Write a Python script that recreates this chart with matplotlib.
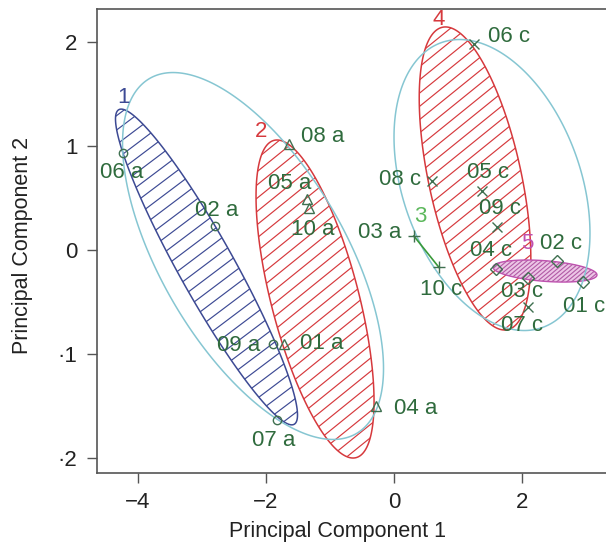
import numpy as np
import matplotlib
matplotlib.use("Agg")
import matplotlib.pyplot as plt
from matplotlib.patches import Polygon
from matplotlib.collections import LineCollection

plt.rcParams['font.family'] = ['Liberation Sans', 'DejaVu Sans']

# sample scores on the first two principal components
names = ["06 a", "02 a", "09 a", "07 a",
         "08 a", "05 a", "10 a", "01 a", "04 a",
         "03 a", "10 c",
         "06 c", "08 c", "05 c", "09 c", "07 c",
         "04 c", "02 c", "03 c", "01 c"]
pc1 = [-4.23, -2.80, -1.89, -1.83,
       -1.64, -1.36, -1.33, -1.72, -0.28,
       0.31, 0.70,
       1.25, 0.59, 1.37, 1.61, 2.10,
       1.59, 2.55, 2.09, 2.95]
pc2 = [0.93, 0.23, -0.91, -1.64,
       1.01, 0.49, 0.40, -0.91, -1.50,
       0.13, -0.17,
       1.98, 0.66, 0.56, 0.22, -0.55,
       -0.19, -0.11, -0.27, -0.31]
group = [1, 1, 1, 1,
         2, 2, 2, 2, 2,
         3, 3,
         4, 4, 4, 4, 4,
         5, 5, 5, 5]

# where each sample label sits relative to its point (points)
label_dx = [-1, 1.5, -24.5, -2, 24, -12.6, 2.5, 27, 28.3, -24.7, 1.4,
            25.4, -22.9, 4.3, 1.8, -4.3, -3.6, 2.9, -4.3, 0.7]
label_dy = [-14, 11, -0.7, -15, 5.8, 10.8, -15.8, 0.7, -2.2, 2.2, -15.8,
            5, 0.7, 13.7, 13, -13.7, 13.7, 12.2, -10, -18]

# class ellipses (groups 1, 2, 4, 5): centre, spread and correlation
ell_group = [1, 2, 4, 5]
ell_cx = [-2.93, -1.234, 1.266, 2.359]
ell_cy = [-0.168, -0.476, 0.683, -0.207]
ell_sx = [1.422, 0.922, 0.872, 0.8125]
ell_sy = [1.518, 1.529, 1.457, 0.106]
ell_rho = [-0.937, -0.644, -0.53, -0.35]

# the two larger cluster ellipses
clu_cx = [-2.203, 1.531]
clu_cy = [-0.0625, 0.620]
clu_sx = [2.039, 1.531]
clu_sy = [1.764, 1.399]
clu_rho = [-0.613, -0.33]

grp_ids = [1, 2, 3, 4, 5]
grp_lab_x = [-4.234, -2.078, 0.406, 0.703, 2.078]
grp_lab_y = [1.457, 1.139, 0.322, 2.216, 0.053]

grp_color = {1: "#3d4a94", 2: "#d6393d", 3: "#5cb85c", 4: "#d6393d", 5: "#c050b0"}
grp_marker = {1: "o", 2: "^", 3: "+", 4: "x", 5: "D"}
grp_ms = {1: 6, 2: 7.5, 3: 9, 4: 6.5, 5: 6.5}
# hatch angle (deg) and gap (px) per ellipse group
hatch_ang = {1: 37, 2: 39, 4: 39, 5: 40}
hatch_gap = {1: 11.5, 2: 10.3, 4: 10.3, 5: 3.2}
txt_green = "#2f6b3d"
pt_green = "#3f7050"
cyan = "#86c6d2"


def ellipse_xy(cx, cy, sx, sy, rho, n=300):
    t = np.linspace(0, 2 * np.pi, n)
    x = cx + sx * np.cos(t)
    y = cy + sy * (rho * np.cos(t) + np.sqrt(1 - rho ** 2) * np.sin(t))
    return np.column_stack([x, y])


def hatch(ax, patch, color, angle, spacing, lw):
    W, H = ax.bbox.width, ax.bbox.height
    th = np.radians(angle)
    d = np.array([np.cos(th), np.sin(th)])
    nrm = np.array([-np.sin(th), np.cos(th)])
    diag = np.hypot(W, H)
    segs = []
    for k in range(-int(diag / spacing) - 1, int(diag / spacing) + 2):
        c = np.array([W / 2, H / 2]) + k * spacing * nrm
        p0 = c - diag * d
        p1 = c + diag * d
        segs.append([(p0[0] / W, p0[1] / H), (p1[0] / W, p1[1] / H)])
    lc = LineCollection(segs, colors=color, linewidths=lw, transform=ax.transAxes)
    ax.add_collection(lc)
    lc.set_clip_path(patch)


fig = plt.figure(figsize=(6.06, 5.49), dpi=100)
ax = fig.add_axes([97 / 606, 76 / 549, 509 / 606, 464 / 549])
ax.set_xlim(-4.641, 3.3125)
ax.set_ylim(-2.149, 2.3125)

# cluster ellipses
for i in range(len(clu_cx)):
    xy = ellipse_xy(clu_cx[i], clu_cy[i], clu_sx[i], clu_sy[i], clu_rho[i])
    ax.add_patch(Polygon(xy, closed=True, fill=False, edgecolor=cyan, lw=1.1, zorder=3))

# hatched class ellipses
for i, g in enumerate(ell_group):
    xy = ellipse_xy(ell_cx[i], ell_cy[i], ell_sx[i], ell_sy[i], ell_rho[i])
    if g == 5:
        p = Polygon(xy, closed=True, facecolor="#ecc6e6", edgecolor=grp_color[g], lw=1.0, zorder=2)
        ax.add_patch(p)
        hatch(ax, p, "#b25aa6", hatch_ang[g], hatch_gap[g], 0.8)
    else:
        p = Polygon(xy, closed=True, facecolor="none", edgecolor=grp_color[g], lw=1.1, zorder=2)
        ax.add_patch(p)
        hatch(ax, p, grp_color[g], hatch_ang[g], hatch_gap[g], 0.85)

# group 3 is just a segment between its two samples
g3 = [i for i, g in enumerate(group) if g == 3]
ax.plot([pc1[i] for i in g3], [pc2[i] for i in g3], color="#3a9a3a", lw=1.2, zorder=3)

for g in grp_ids:
    idx = [i for i, gg in enumerate(group) if gg == g]
    ax.plot([pc1[i] for i in idx], [pc2[i] for i in idx], ls="none",
            marker=grp_marker[g], ms=grp_ms[g], mfc="none", mec=pt_green, mew=1.0, zorder=4)

for i, nm in enumerate(names):
    ax.annotate(nm, (pc1[i], pc2[i]), xytext=(label_dx[i], label_dy[i]),
                textcoords="offset points", ha="center", va="center",
                fontsize=16, color=txt_green, zorder=5)

for i, g in enumerate(grp_ids):
    ax.text(grp_lab_x[i], grp_lab_y[i], str(g), ha="center", va="center",
            fontsize=16, color=grp_color[g], zorder=5)

for s in ["left", "bottom", "top"]:
    ax.spines[s].set_color("#555555")
    ax.spines[s].set_linewidth(1.2)
ax.spines["right"].set_visible(False)

ax.set_xticks([-4, -2, 0, 2])
ax.set_yticks([-2, -1, 0, 1, 2])
ax.set_yticklabels(["·2", "·1", "0", "1", "2"])
ax.tick_params(direction="out", length=7, width=1, pad=7, labelsize=16,
               color="#555555", labelcolor="#222222")

ax.set_xlabel("Principal Component 1", fontsize=15.5, color="#222222")
ax.xaxis.set_label_coords(0.473, -0.104)
ax.set_ylabel("Principal Component 2", fontsize=15.5, color="#222222")
ax.yaxis.set_label_coords(-0.125, 0.49)

fig.savefig("out.png", dpi=100)
